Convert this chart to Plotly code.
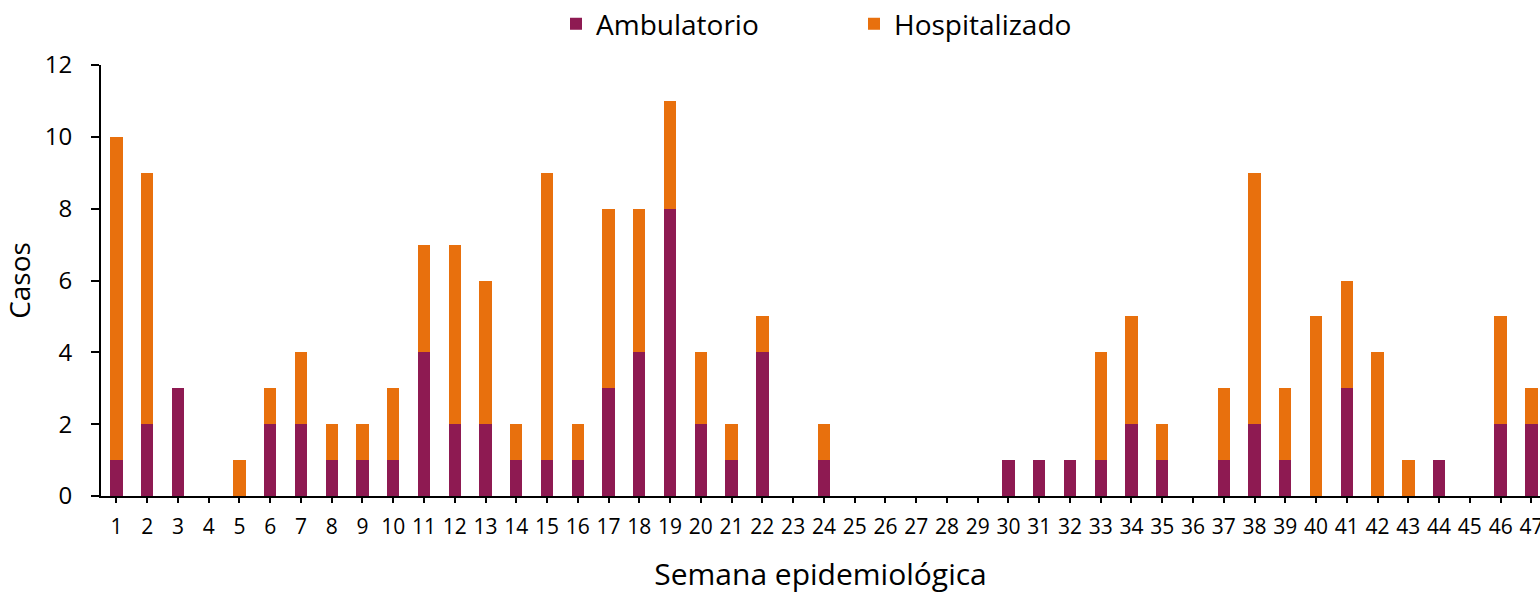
import plotly.graph_objects as go

semanas = list(range(1, 48))
ambulatorio = [1, 2, 3, 0, 0, 2, 2, 1, 1, 1, 4, 2, 2, 1, 1, 1, 3, 4, 8, 2, 1, 4, 0, 1,
               0, 0, 0, 0, 0, 1, 1, 1, 1, 2, 1, 0, 1, 2, 1, 0, 3, 0, 0, 1, 0, 2, 2]
hospitalizado = [9, 7, 0, 0, 1, 1, 2, 1, 1, 2, 3, 5, 4, 1, 8, 1, 5, 4, 3, 2, 1, 1, 0, 1,
                 0, 0, 0, 0, 0, 0, 0, 0, 3, 3, 1, 0, 2, 7, 2, 5, 3, 4, 1, 0, 0, 3, 1]

FONT = "Open Sans"
fig = go.Figure()
fig.add_trace(go.Bar(x=semanas, y=ambulatorio, name="Ambulatorio",
                     marker=dict(color="#8E1A52", line=dict(width=0))))
fig.add_trace(go.Bar(x=semanas, y=hospitalizado, name="Hospitalizado",
                     marker=dict(color="#E8700D", line=dict(width=0))))

fig.update_layout(
    barmode="stack",
    bargap=0.6,
    width=1540, height=594,
    margin=dict(l=101, r=0, t=65, b=98, autoexpand=False),
    plot_bgcolor="white", paper_bgcolor="white",
    font=dict(family=FONT, color="black"),
    showlegend=True,
    legend=dict(orientation="h", x=0.3162, xanchor="left", y=1.095, yanchor="middle",
                font=dict(size=28, family=FONT), entrywidth=253, entrywidthmode="pixels",
                traceorder="normal"),
    xaxis=dict(range=[0.5, 47.28], tickmode="array", tickvals=semanas,
               ticktext=[str(s) for s in semanas], automargin=False,
               showline=True, linecolor="black", linewidth=2,
               ticks="outside", ticklen=5, tickwidth=2, tickcolor="black",
               tickfont=dict(size=21), showgrid=False, zeroline=False,
               ticklabelstandoff=6, ticklabeloverflow="allow",
               title=dict(text="Semana epidemiológica", font=dict(size=30), standoff=30)),
    yaxis=dict(range=[0, 12], dtick=2, tick0=0, automargin=False,
               showline=True, linecolor="black", linewidth=2,
               ticks="outside", ticklen=8, tickwidth=2, tickcolor="black",
               tickfont=dict(size=24), showgrid=False, zeroline=False,
               ticklabelstandoff=14,
               title=dict(text="Casos", font=dict(size=28), standoff=14)),
)

fig.write_html(
    "out.html",
    config={"displayModeBar": False},
    post_script="document.body.style.margin='0';document.body.style.overflow='hidden';"
)
